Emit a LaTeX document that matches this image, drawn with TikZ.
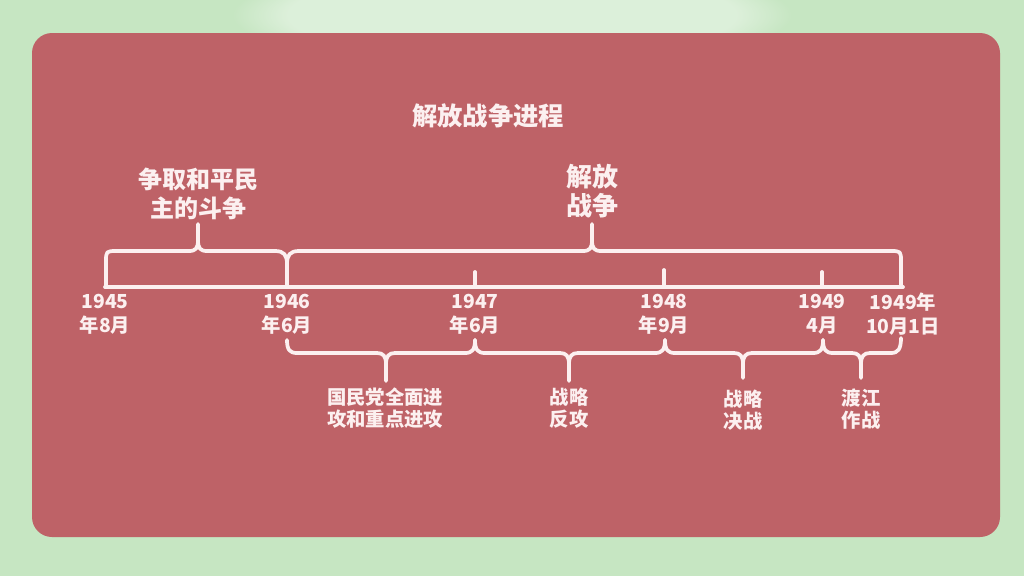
\documentclass[tikz,border=0pt]{standalone}
\usepackage{fontspec}
\newfontfamily\cjk{Noto Sans CJK SC}
\usetikzlibrary{fadings}
\definecolor{bggreen}{RGB}{198,230,194}
\definecolor{panel}{RGB}{190,98,103}
\definecolor{fg}{RGB}{252,240,240}
\begin{document}
\begin{tikzpicture}[x=0.75pt,y=-0.75pt,
  ln/.style={draw=fg, line width=2.8pt, line cap=round, line join=round},
  lbl/.style={text=fg, align=center, inner sep=0pt},
  big/.style={font=\cjk\bfseries\fontsize{18}{21.75}\selectfont},
  date/.style={font=\cjk\bfseries\fontsize{14.5}{18}\selectfont},
  small/.style={font=\cjk\bfseries\fontsize{14.5}{16}\selectfont}]
\useasboundingbox (0,0) rectangle (1024,576);
\fill[bggreen] (0,0) rectangle (1024,576);
\fill[white, opacity=0.4, path fading=circle with fuzzy edge 20 percent] (512,15) ellipse [x radius=280, y radius=55];
\fill[panel, rounded corners=15pt] (32,33) rectangle (1000,537);

% title
\node[lbl, font=\cjk\bfseries\fontsize{19}{23}\selectfont] (title) at (488,116) {解放战争进程};

% top labels
\node[lbl, big] (peace) at (198,194) {争取和平民\\主的斗争};
\node[lbl, font=\cjk\bfseries\fontsize{19.5}{22}\selectfont] (war) at (592,191) {解放\\战争};

% main line and ticks
\draw[ln] (105,287) -- (903,287);
\draw[ln] (475,287) -- (475,272);
\draw[ln] (664,287) -- (664,270);
\draw[ln] (822,287) -- (822,272);

% top brace: 1945.8 - 1946.6
\draw[ln] (106,287) -- (106,262) .. controls (106,251) .. (117,251) -- (189,251)
  .. controls (196,251) and (198,248) .. (198,240) -- (198,224);
\draw[ln] (198,240) .. controls (198,248) and (200,251) .. (207,251) -- (275,251)
  .. controls (284,251) and (287,255) .. (287,264) -- (287,287);
% top brace: 1946.6 - 1949.10
\draw[ln] (287,264) .. controls (287,255) and (290,251) .. (299,251) -- (583,251)
  .. controls (590,251) and (592,248) .. (592,240) -- (592,224);
\draw[ln] (592,240) .. controls (592,248) and (594,251) .. (601,251) -- (890,251)
  .. controls (901,251) .. (901,262) -- (901,287);

% dates
\node[lbl, date] (d1) at (105,314) {1945\\年8月};
\node[lbl, date] (d2) at (287,314) {1946\\年6月};
\node[lbl, date] (d3) at (475,314) {1947\\年6月};
\node[lbl, date] (d4) at (664,314) {1948\\年9月};
\node[lbl, date] (d5) at (822,314) {1949\\4月};
\node[lbl, date] (d6) at (903,314) {1949年\\10月1日};

% bottom braces
\draw[ln] (287,340) .. controls (287,350) and (290,353) .. (297,353) -- (377,353)
  .. controls (383,353) and (386,356) .. (386,364) -- (386,381);
\draw[ln] (386,364) .. controls (386,356) and (389,353) .. (395,353) -- (465,353)
  .. controls (472,353) and (475,350) .. (475,340);
\draw[ln] (475,340) .. controls (475,350) and (478,353) .. (485,353) -- (560,353)
  .. controls (566,353) and (569,356) .. (569,364) -- (569,381);
\draw[ln] (569,364) .. controls (569,356) and (572,353) .. (578,353) -- (655,353)
  .. controls (662,353) and (665,350) .. (665,340);
\draw[ln] (665,340) .. controls (665,350) and (668,353) .. (675,353) -- (734,353)
  .. controls (740,353) and (743,356) .. (743,364) -- (743,378);
\draw[ln] (743,364) .. controls (743,356) and (746,353) .. (752,353) -- (813,353)
  .. controls (820,353) and (823,350) .. (823,340);
\draw[ln] (823,340) .. controls (823,350) and (826,353) .. (833,353) -- (852,353)
  .. controls (858,353) and (861,356) .. (861,364) -- (861,378);
\draw[ln] (861,364) .. controls (861,356) and (864,353) .. (870,353) -- (891,353)
  .. controls (898,353) and (901,349) .. (901,338);

% bottom labels
\node[lbl, small] (b1) at (385,408) {国民党全面进\\攻和重点进攻};
\node[lbl, small] (b2) at (569,408) {战略\\反攻};
\node[lbl, small] (b3) at (743,410) {战略\\决战};
\node[lbl, small] (b4) at (861,409) {渡江\\作战};
\end{tikzpicture}
\end{document}
